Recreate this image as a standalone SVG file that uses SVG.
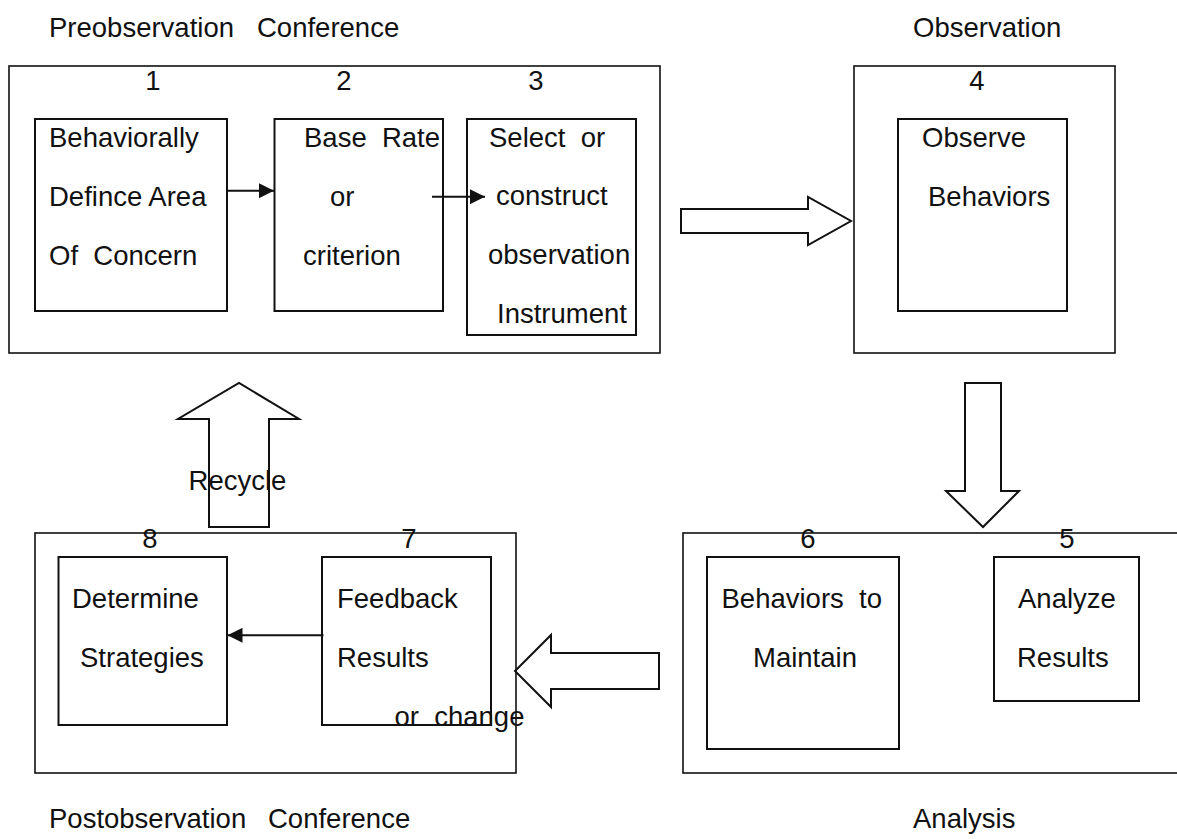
<svg xmlns="http://www.w3.org/2000/svg" width="1177" height="839" viewBox="0 0 1177 839" xml:space="preserve">
<style>
  text { font-family: "Liberation Sans", Arial, sans-serif; font-size: 27.5px; fill: #111; white-space: pre; }
  .num { text-anchor: middle; }
  .outer { fill: none; stroke: #111; stroke-width: 1.6; }
  .inner { fill: none; stroke: #111; stroke-width: 2; }
  .block { fill: none; stroke: #111; stroke-width: 2; stroke-linejoin: miter; }
  .line { fill: none; stroke: #111; stroke-width: 2; }
</style>
<defs>
  <marker id="ah" markerUnits="userSpaceOnUse" markerWidth="16" markerHeight="15" refX="15" refY="7.5" orient="auto">
    <path d="M0,0 L15,7.5 L0,15 z" fill="#111"/>
  </marker>
</defs>
<rect width="1177" height="839" fill="#ffffff"/>

<g id="headings">
  <text x="49" y="37">Preobservation <tspan x="257">Conference</tspan></text>
  <text x="913" y="37">Observation</text>
  <text x="49" y="828">Postobservation <tspan x="268">Conference</tspan></text>
  <text x="913" y="828">Analysis</text>
</g>

<g id="phase-preobservation">
  <rect class="outer" x="9" y="66" width="651" height="287"/>
</g>
<g id="node1">
  <text class="num" x="153" y="90">1</text>
  <rect class="inner" x="35" y="119" width="192" height="192"/>
  <text x="49" y="147">Behaviorally</text>
  <text x="49" y="206">Defince Area</text>
  <text x="49" y="265">Of  Concern</text>
</g>
<g id="node2">
  <text class="num" x="344" y="90">2</text>
  <rect class="inner" x="274.5" y="119" width="168.5" height="192"/>
  <text x="304" y="147">Base  Rate</text>
  <text x="330" y="206">or</text>
  <text x="303" y="265">criterion</text>
</g>
<g id="node3">
  <text class="num" x="536" y="90">3</text>
  <rect class="inner" x="467" y="119" width="169" height="216"/>
  <text x="489" y="147">Select  or</text>
  <text x="496" y="205">construct</text>
  <text x="488" y="264">observation</text>
  <text x="497" y="323">Instrument</text>
</g>

<g id="phase-observation">
  <rect class="outer" x="854" y="66" width="261" height="287"/>
</g>
<g id="node4">
  <text class="num" x="977" y="90">4</text>
  <rect class="inner" x="898" y="119" width="169" height="192"/>
  <text x="922" y="147">Observe</text>
  <text x="928" y="206">Behaviors</text>
</g>

<g id="phase-analysis">
  <rect class="outer" x="683" y="533" width="520" height="240"/>
</g>
<g id="node5">
  <rect class="inner" x="994" y="557" width="145" height="144"/>
  <text x="1018" y="608">Analyze</text>
  <text x="1017" y="667">Results</text>
  <text class="num" x="1067" y="548">5</text>
</g>
<g id="node6">
  <rect class="inner" x="707" y="557" width="192" height="192"/>
  <text x="721.5" y="608">Behaviors  to</text>
  <text x="753" y="667">Maintain</text>
  <text class="num" x="808" y="548">6</text>
</g>

<g id="phase-postobservation">
  <rect class="outer" x="35" y="533" width="481" height="240"/>
</g>
<g id="node7">
  <rect class="inner" x="322" y="557" width="169" height="168"/>
  <text x="337" y="608">Feedback</text>
  <text x="337" y="667">Results</text>
  <text x="394.5" y="726">or  change</text>
  <text class="num" x="409" y="548">7</text>
</g>
<g id="node8">
  <rect class="inner" x="58.5" y="557" width="168.5" height="168"/>
  <text x="72" y="608">Determine</text>
  <text x="80" y="667">Strategies</text>
  <text class="num" x="150" y="548">8</text>
</g>

<g id="connectors">
  <line class="line" x1="227" y1="190.7" x2="274" y2="190.7" marker-end="url(#ah)"/>
  <line class="line" x1="432" y1="196.7" x2="485" y2="196.7" marker-end="url(#ah)"/>
  <line class="line" x1="323.5" y1="635.3" x2="227.5" y2="635.3" marker-end="url(#ah)"/>
  <polygon class="block" points="681,209 808,209 808,197 851,221 808,245 808,233 681,233"/>
  <polygon class="block" points="965,383 1001,383 1001,491 1019,491 983,527 946,491 965,491"/>
  <polygon class="block" points="659,653 551,653 551,635 515,671 551,707 551,689 659,689"/>
  <polygon class="block" points="209,527 209,419 178,419 239,383 299,419 269,419 269,527"/>
  <text x="188.6" y="490">Recycle</text>
</g>
</svg>
